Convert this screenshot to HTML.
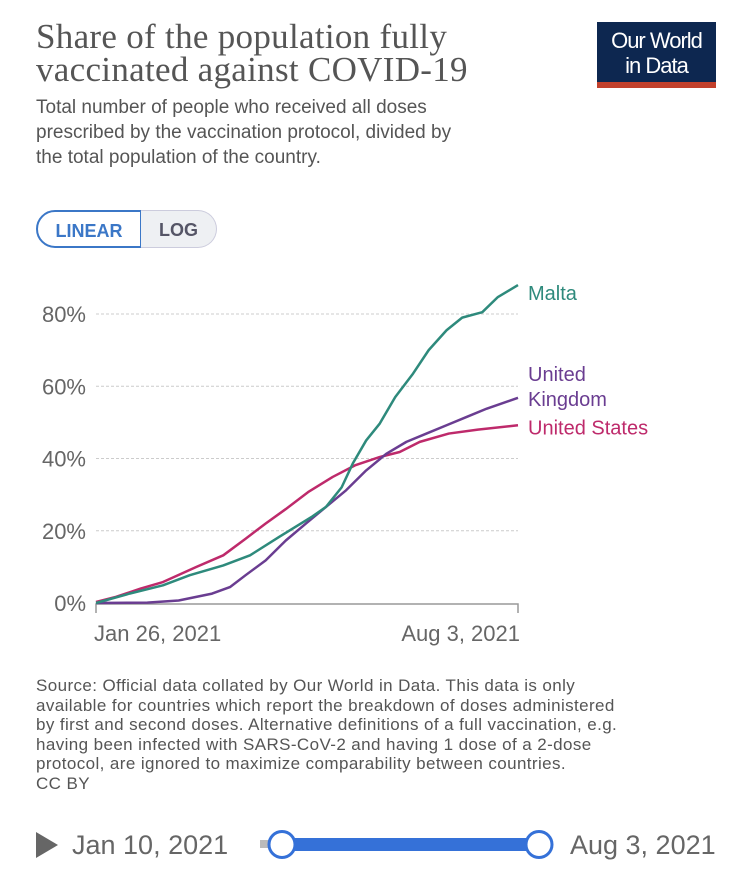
<!DOCTYPE html>
<html><head><meta charset="utf-8"><style>
body{margin:0;width:750px;height:878px;background:#fff;font-family:"Liberation Sans",sans-serif;overflow:hidden;position:relative}
.abs{position:absolute}
#title{left:36px;top:20px;font-family:"Liberation Serif",serif;font-size:35px;line-height:33px;color:#555;letter-spacing:0.3px}
#sub{left:36px;top:95px;font-size:19px;line-height:25px;color:#555;white-space:nowrap}
#logo{left:597px;top:22px;width:119px;height:66px;background:#0d2750;color:#fff;text-align:center;font-size:22px;line-height:25px;letter-spacing:-1px}
#logo .bar{position:absolute;left:0;bottom:0;width:100%;height:6px;background:#c2402c}
.btn{top:210px;height:38px;line-height:38px;font-size:18px;font-weight:bold;text-align:center;box-sizing:border-box}
#src{left:36px;top:676px;font-size:17px;line-height:19.6px;color:#555;white-space:nowrap;letter-spacing:0.4px}
</style></head><body>
<div class="abs" id="title">Share of the population fully<br>vaccinated against COVID-19</div>
<div class="abs" id="sub">Total number of people who received all doses<br>prescribed by the vaccination protocol, divided by<br>the total population of the country.</div>
<div class="abs" id="logo"><div style="padding-top:6px">Our World<br>in Data</div><div class="bar"></div></div>
<div class="abs btn" style="left:36px;width:106px;border:2px solid #3b77c7;border-radius:19px 0 0 19px;color:#3b77c7;">LINEAR</div>
<div class="abs btn" style="left:141px;width:76px;background:#eef0f3;border:1px solid #ccd;border-left:none;border-radius:0 19px 19px 0;color:#556;">LOG</div>
<svg class="abs" style="left:0;top:260px" width="750" height="400" id="chart"></svg>
<div class="abs" id="src">Source: Official data collated by Our World in Data. This data is only<br>available for countries which report the breakdown of doses administered<br>by first and second doses. Alternative definitions of a full vaccination, e.g.<br>having been infected with SARS-CoV-2 and having 1 dose of a 2-dose<br>protocol, are ignored to maximize comparability between countries.<br>CC BY</div>
<svg class="abs" style="left:0;top:815px" width="750" height="60">
<polygon points="36,17 36,43 58,30" fill="#666"/>
<text x="72" y="39" font-size="27" fill="#666" font-family="Liberation Sans">Jan 10, 2021</text>
<rect x="260" y="25" width="20" height="8" fill="#bbb"/>
<rect x="282" y="23" width="258" height="13" fill="#3571d8"/>
<circle cx="282" cy="29.5" r="13" fill="#fff" stroke="#3571d8" stroke-width="3"/>
<circle cx="539" cy="29.5" r="13" fill="#fff" stroke="#3571d8" stroke-width="3"/>
<text x="570" y="39" font-size="27" fill="#666" font-family="Liberation Sans">Aug 3, 2021</text>
</svg>
<script>
const yTicks=[0,20,40,60,80];
const xLabels=["Jan 26, 2021","Aug 3, 2021"];
const maltaDays=[0,15,30,42,57,69,82,97,103,110,115,121,127,134,142,149,157,164,173,180,189];
const maltaVals=[0,2.6,4.9,7.7,10.4,13.2,18.3,24,26.6,32,38.6,45,49.6,57,63.5,70,75.5,79,80.5,84.7,88];
const ukDays=[0,23,37,52,60,67,76,85,94,103,112,121,130,139,148,157,166,175,189];
const ukVals=[0,0.1,0.7,2.6,4.4,7.7,11.8,17.3,22,26.6,31.2,36.7,41.3,44.6,46.9,49.2,51.5,53.8,56.8];
const usDays=[0,9,20,30,45,57,67,76,85,95,106,116,127,136,145,158,171,189];
const usVals=[0.3,1.7,4,5.8,10,13.2,17.8,22,26,30.7,34.9,38.1,40.4,41.8,44.6,46.9,48,49.2];
const NS="http://www.w3.org/2000/svg";
const svg=document.getElementById('chart');
const X0=96,X1=518,Y0=343,Y80=54;
const x=d=>X0+d/189*(X1-X0);
const y=v=>Y0-v/80*(Y0-Y80);
function mk(t,a){const e=document.createElementNS(NS,t);for(const k in a)e.setAttribute(k,a[k]);svg.appendChild(e);return e;}
yTicks.forEach(v=>{
  if(v>0){const g=mk('line',{x1:X0,x2:X1,y1:y(v),y2:y(v),stroke:'#ccc','stroke-dasharray':'3,2'});
  
  }
  const t=mk('text',{x:86,y:y(v)+8,'text-anchor':'end','font-size':22,fill:'#666','font-family':'Liberation Sans'});
  t.textContent=v+'%';
  
  
});
const ax=mk('path',{d:`M${X0},${Y0+10}V${Y0+1}H${X1}V${Y0+10}`,stroke:'#999','stroke-width':1.5,fill:'none'});


[[0,'start',X0-2],[1,'end',X1+2]].forEach(([i,anc,px])=>{
  const t=mk('text',{x:px,y:Y0+38,'text-anchor':anc,'font-size':22,fill:'#666','font-family':'Liberation Sans'});
  t.textContent=xLabels[i];
  
  
});
const series=[[usDays,usVals,'#be2a6b','us-line'],[ukDays,ukVals,'#6a3d91','uk-line'],[maltaDays,maltaVals,'#2e8a7c','malta-line']];
series.forEach(([d,v,c,n])=>{
  const p=mk('polyline',{points:d.map((dd,i)=>x(dd)+','+y(v[i])).join(' '),fill:'none',stroke:c,'stroke-width':2.5,'stroke-linejoin':'round'});
  
  
});
const labs=[['Malta',maltaVals[maltaVals.length-1],'#2e8a7c',[0]],['United',ukVals[ukVals.length-1],'#6a3d91',[-17]],['Kingdom',ukVals[ukVals.length-1],'#6a3d91',[8]],['United States',usVals[usVals.length-1],'#be2a6b',[9]]];
labs.forEach(([s,v,c,off])=>{
  const t=mk('text',{x:528,y:y(v)+off[0]+(s==='Malta'?15:0),'font-size':20,fill:c,'font-family':'Liberation Sans'});
  t.textContent=s;
  
  
});
</script>
</body></html>
